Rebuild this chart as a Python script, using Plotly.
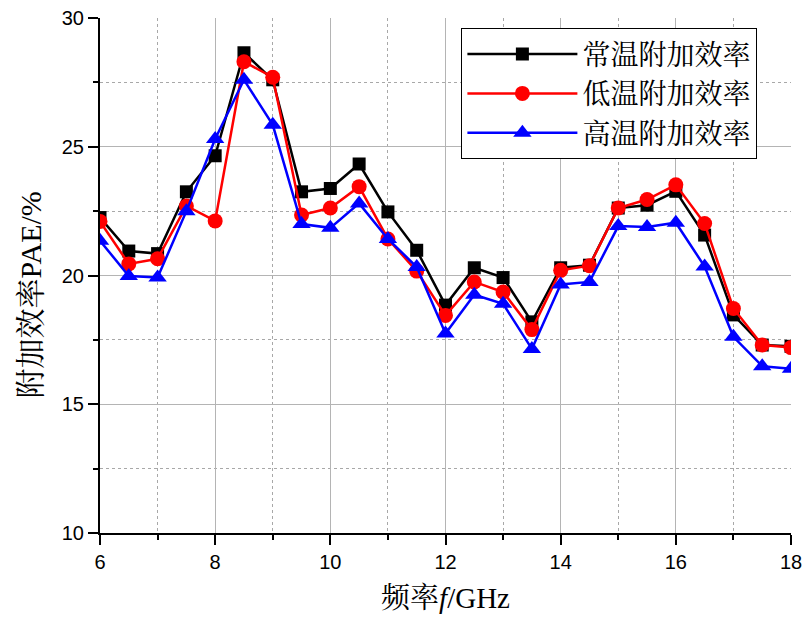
import plotly.graph_objects as go

freq = [6, 6.5, 7, 7.5, 8, 8.5, 9, 9.5, 10, 10.5, 11, 11.5, 12, 12.5, 13, 13.5, 14, 14.5, 15, 15.5, 16, 16.5, 17, 17.5, 18]
pae_normal = [22.25, 20.95, 20.85, 23.25, 24.65, 28.65, 27.6, 23.25, 23.38, 24.33, 22.47, 20.98, 18.85, 20.3, 19.92, 18.2, 20.3, 20.4, 22.62, 22.73, 23.27, 21.57, 18.47, 17.3, 17.25]
pae_low = [22.1, 20.45, 20.65, 22.7, 22.12, 28.3, 27.7, 22.35, 22.62, 23.45, 21.42, 20.17, 18.45, 19.75, 19.36, 17.9, 20.2, 20.38, 22.62, 22.95, 23.52, 22.02, 18.72, 17.3, 17.2]
pae_high = [21.35, 19.98, 19.92, 22.5, 25.3, 27.6, 25.85, 22.0, 21.85, 22.8, 21.42, 20.33, 17.75, 19.25, 18.9, 17.15, 19.65, 19.75, 21.92, 21.88, 22.05, 20.35, 17.62, 16.48, 16.38]

names = ["常温附加效率", "低温附加效率", "高温附加效率"]
colors = ["#000000", "#ff0000", "#0000ff"]
symbols = ["square", "circle", "triangle-up"]
sizes = [13, 15, 16]
series = [pae_normal, pae_low, pae_high]

x_ticks = [6, 8, 10, 12, 14, 16, 18]
y_ticks = [10, 15, 20, 25, 30]

tick_font = dict(family="Liberation Sans, Arial", size=20, color="black")
title_font = dict(family="Liberation Serif, Noto Serif CJK SC, Noto Sans CJK SC", size=29, color="black")

fig = go.Figure()
for ys, n, c, s, sz in zip(series, names, colors, symbols, sizes):
    fig.add_trace(go.Scatter(
        x=freq, y=ys, name=n, mode="lines+markers",
        line=dict(color=c, width=2.5),
        marker=dict(symbol=s, size=sz, color=c, line=dict(width=0)),
    ))

fig.update_layout(
    width=807, height=624,
    margin=dict(l=100, r=16, t=18, b=91),
    plot_bgcolor="white", paper_bgcolor="white",
    showlegend=True,
    legend=dict(
        x=0.523, y=0.98, xanchor="left", yanchor="top",
        bgcolor="white", bordercolor="black", borderwidth=1,
        font=dict(family="Noto Serif CJK SC, Noto Sans CJK SC", size=28, color="black"),
        itemwidth=110, tracegroupgap=0,
    ),
    annotations=[dict(
        text="附加效率PAE/%", textangle=-90, xref="paper", yref="paper",
        x=-0.1, y=0.463, xanchor="center", yanchor="middle", showarrow=False,
        font=dict(family="Liberation Serif, Noto Serif CJK SC, Noto Sans CJK SC", size=30, color="black"),
    )],
    xaxis=dict(
        range=[6, 18], tickvals=x_ticks, ticktext=[str(v) for v in x_ticks],
        ticks="outside", ticklen=10, tickwidth=2, tickcolor="black",
        showline=True, linecolor="black", linewidth=2,
        showgrid=True, gridcolor="#b4b4b4", gridwidth=1,
        minor=dict(dtick=1, tick0=6, ticks="outside", ticklen=5, tickwidth=2, tickcolor="black",
                   showgrid=True, gridcolor="#a8a8a8", griddash="dot", gridwidth=1),
        tickfont=tick_font, automargin=False,
        title=dict(text="频率<i>f</i>/GHz", font=title_font, standoff=16),
        zeroline=False,
    ),
    yaxis=dict(
        range=[10, 30], tickvals=y_ticks, ticktext=[str(v) for v in y_ticks],
        ticks="outside", ticklen=10, tickwidth=2, tickcolor="black",
        showline=True, linecolor="black", linewidth=2,
        showgrid=True, gridcolor="#b4b4b4", gridwidth=1,
        minor=dict(dtick=2.5, tick0=10, ticks="outside", ticklen=5, tickwidth=2, tickcolor="black",
                   showgrid=True, gridcolor="#a8a8a8", griddash="dot", gridwidth=1),
        tickfont=tick_font, automargin=False,
        zeroline=False,
    ),
    xaxis2=dict(
        overlaying="x", matches="x", side="top", range=[6, 18], tickvals=x_ticks,
        ticks="inside", ticklen=9, tickwidth=2, tickcolor="black", automargin=False,
        showline=True, linecolor="black", linewidth=2, showticklabels=False, showgrid=False,
        minor=dict(dtick=1, tick0=6, ticks="inside", ticklen=5, tickwidth=2, tickcolor="black", showgrid=False),
        zeroline=False,
    ),
    yaxis2=dict(
        overlaying="y", matches="y", side="right", range=[10, 30], tickvals=y_ticks,
        ticks="inside", ticklen=9, tickwidth=2, tickcolor="black", automargin=False,
        showline=True, linecolor="black", linewidth=2, showticklabels=False, showgrid=False,
        minor=dict(dtick=2.5, tick0=10, ticks="inside", ticklen=5, tickwidth=2, tickcolor="black", showgrid=False),
        zeroline=False,
    ),
)

fig.write_html("out.html")
